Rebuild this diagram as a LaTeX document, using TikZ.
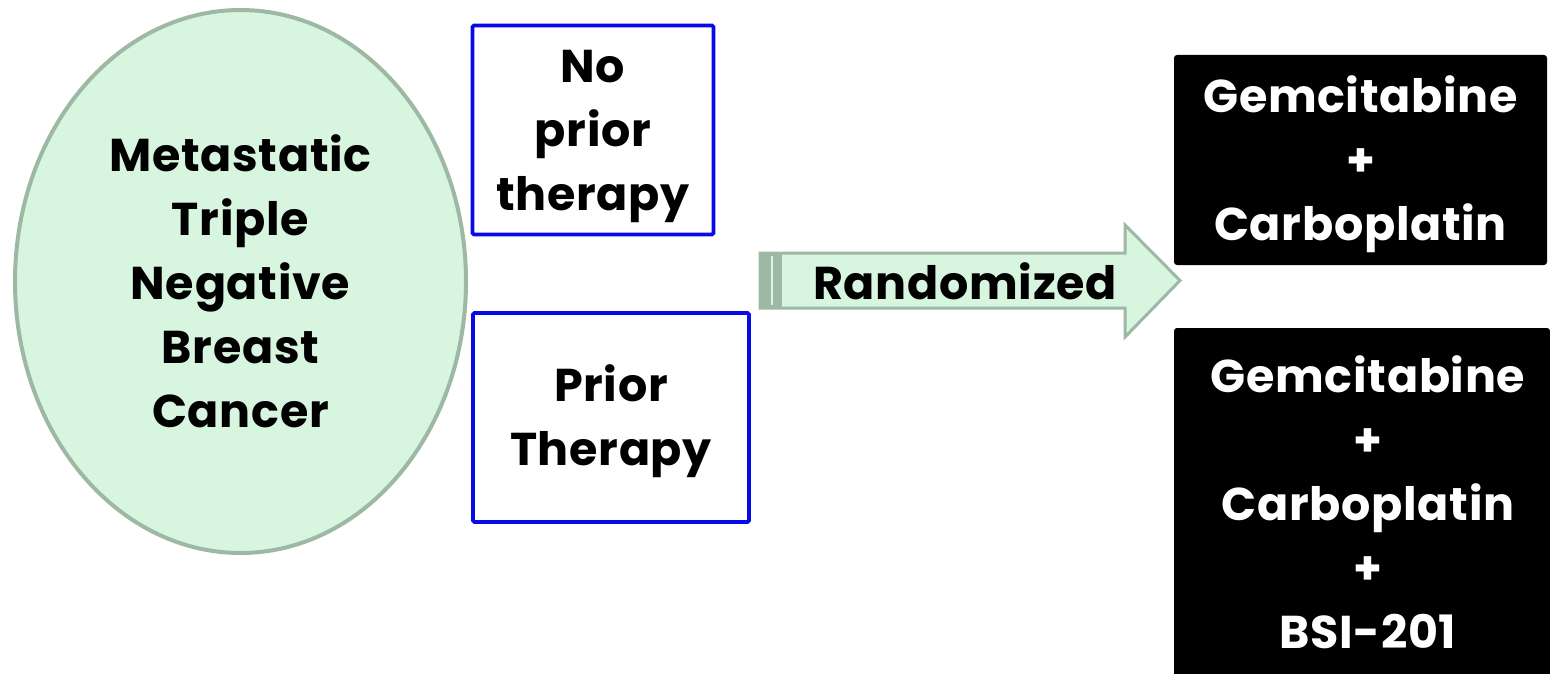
\documentclass[tikz,border=0pt]{standalone}
\usepackage{fontspec}
\setmainfont{Poppins}[LetterSpace=1.5]
\usetikzlibrary{shapes.geometric}
\definecolor{mint}{HTML}{D8F5DF}
\definecolor{sage}{HTML}{9DB8A3}
\definecolor{boxblue}{HTML}{0A0AE6}
\tikzset{
  txt/.style={font=\bfseries\fontsize{46}{64}\selectfont, align=center, inner sep=0pt},
  bluebox/.style={draw=boxblue, line width=3.6pt, rounded corners=1.5pt, fill=white, inner sep=0pt},
  blackbox/.style={fill=black, rounded corners=3pt, inner sep=0pt},
  wtxt/.style={txt, text=white},
}
\begin{document}
\begin{tikzpicture}[x=1pt,y=-1pt]
\useasboundingbox (0,0) rectangle (1550,674);
% ellipse
\node[txt, ellipse, draw=sage, fill=mint, line width=4pt,
      minimum width=451pt, minimum height=543pt] (mtnbc) at (240.5,281.5)
  {Metastatic\\Triple\\Negative\\Breast\\Cancer};
% blue boxes
\node[bluebox, minimum width=241pt, minimum height=209pt] (noprior) at (593,130) {};
\node[txt] (nopriortext) at ([yshift=-6.5pt]noprior.center) {No\\prior\\therapy};
\node[bluebox, minimum width=276pt, minimum height=209pt] (prior) at (611,417.5) {};
\node[txt] (priortext) at ([yshift=-4pt]prior.center) {Prior\\Therapy};
% arrow
\draw[sage, fill=mint, line width=3pt, line join=miter]
  (760,253) -- (1125,253) -- (1125,225) -- (1180,280.5) -- (1125,337)
  -- (1125,308) -- (760,308) -- cycle;
\fill[sage] (760,253) rectangle (782,308);
\draw[mint, line width=1.5pt] (772,256) -- (772,305);
\node[txt] (rand) at (965,281) {Randomized};
% black boxes
\node[blackbox, minimum width=373pt, minimum height=210pt] (arm1) at (1360.5,160) {};
\node[wtxt] (arm1text) at ([yshift=-4pt]arm1.center) {Gemcitabine\\+\\Carboplatin};
\node[blackbox, minimum width=376pt, minimum height=352pt] (arm2) at (1362,504) {};
\node[wtxt] (arm2text) at ([xshift=6pt,yshift=2pt]arm2.center)
  {Gemcitabine\\+\\Carboplatin\\+\\BSI-201};
\end{tikzpicture}
\end{document}
